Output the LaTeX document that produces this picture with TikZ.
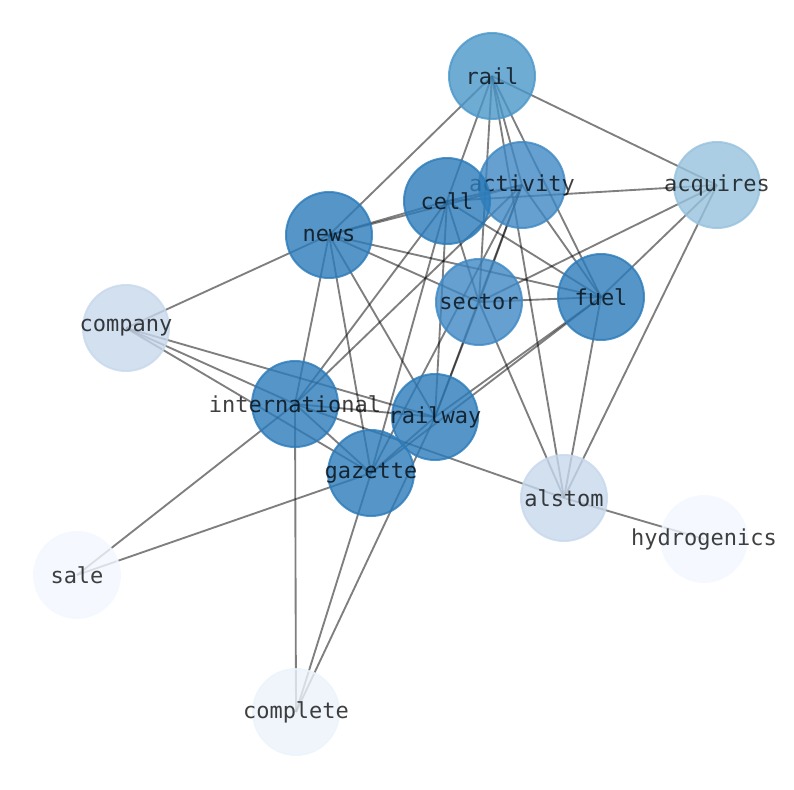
\documentclass[tikz,border=0pt]{standalone}
\usepackage{fontspec}
\setmonofont{DejaVu Sans Mono}
\usetikzlibrary{backgrounds}

\definecolor{hub}{HTML}{2B7BBA}
\definecolor{mid}{HTML}{3E88C4}
\definecolor{top}{HTML}{4A97C9}
\definecolor{pale}{HTML}{97C2DD}
\definecolor{faint}{HTML}{C7D8EC}
\definecolor{ghost}{HTML}{ECF3FB}
\definecolor{mist}{HTML}{F3F8FF}

\newcommand{\word}[1]{\makebox[0pt]{#1}}

\begin{document}
\begin{tikzpicture}[
        x=0.75pt, y=-0.75pt,
        vertex/.style={circle, draw=#1, fill=#1, line width=1.5pt,
            fill opacity=0.8, draw opacity=0.8, text=black, text opacity=0.75,
            minimum size=64.5pt, inner sep=0pt,
            font=\fontsize{16.5}{18}\selectfont\ttfamily},
        edge/.style={draw=black, draw opacity=0.5, line width=1.4pt}
    ]
        \useasboundingbox (0,0) rectangle (794,790);

        % Words
        \node[vertex=top] (rail) at (492,76) {\word{rail}};
        \node[vertex=mid] (activity) at (522,185) {\word{activity}};
        \node[vertex=pale] (acquires) at (717,185) {\word{acquires}};
        \node[vertex=hub] (cell) at (447,201) {\word{cell}};
        \node[vertex=hub] (news) at (329,235) {\word{news}};
        \node[vertex=mid] (sector) at (479,302) {\word{sector}};
        \node[vertex=hub] (fuel) at (601,297) {\word{fuel}};
        \node[vertex=faint] (company) at (126,328) {\word{company}};
        \node[vertex=hub] (international) at (295,404) {\word{international}};
        \node[vertex=hub] (railway) at (435,417) {\word{railway}};
        \node[vertex=hub] (gazette) at (371,473) {\word{gazette}};
        \node[vertex=faint] (alstom) at (564,498) {\word{alstom}};
        \node[vertex=mist] (hydrogenics) at (704,539) {\word{hydrogenics}};
        \node[vertex=mist] (sale) at (77,575) {\word{sale}};
        \node[vertex=ghost] (complete) at (296,712) {\word{complete}};

        % Links
        \begin{scope}[on background layer]
        \draw[edge] (rail.center) -- (news.center);
        \draw[edge] (rail.center) -- (cell.center);
        \draw[edge] (rail.center) -- (sector.center);
        \draw[edge] (rail.center) -- (activity.center);
        \draw[edge] (rail.center) -- (alstom.center);
        \draw[edge] (rail.center) -- (fuel.center);
        \draw[edge] (rail.center) -- (acquires.center);
        \draw[edge] (acquires.center) -- (cell.center);
        \draw[edge] (acquires.center) -- (sector.center);
        \draw[edge] (acquires.center) -- (fuel.center);
        \draw[edge] (acquires.center) -- (alstom.center);
        \draw[edge] (news.center) -- (company.center);
        \draw[edge] (news.center) -- (cell.center);
        \draw[edge] (news.center) -- (activity.center);
        \draw[edge] (news.center) -- (fuel.center);
        \draw[edge] (news.center) -- (sector.center);
        \draw[edge] (news.center) -- (railway.center);
        \draw[edge] (news.center) -- (gazette.center);
        \draw[edge] (news.center) -- (international.center);
        \draw[edge] (cell.center) -- (activity.center);
        \draw[edge] (cell.center) -- (international.center);
        \draw[edge] (cell.center) -- (gazette.center);
        \draw[edge] (cell.center) -- (railway.center);
        \draw[edge] (cell.center) -- (fuel.center);
        \draw[edge] (cell.center) -- (sector.center);
        \draw[edge] (activity.center) -- (international.center);
        \draw[edge] (activity.center) -- (gazette.center);
        \draw[edge] (activity.center) -- (railway.center);
        \draw[edge] (activity.center) -- (sector.center);
        \draw[edge] (activity.center) -- (fuel.center);
        \draw[edge] (sector.center) -- (fuel.center);
        \draw[edge] (sector.center) -- (alstom.center);
        \draw[edge] (sector.center) -- (railway.center);
        \draw[edge] (fuel.center) -- (railway.center);
        \draw[edge] (fuel.center) -- (gazette.center);
        \draw[edge] (fuel.center) -- (alstom.center);
        \draw[edge] (company.center) -- (international.center);
        \draw[edge] (company.center) -- (railway.center);
        \draw[edge] (company.center) -- (gazette.center);
        \draw[edge] (international.center) -- (railway.center);
        \draw[edge] (international.center) -- (gazette.center);
        \draw[edge] (international.center) -- (alstom.center);
        \draw[edge] (international.center) -- (sale.center);
        \draw[edge] (international.center) -- (complete.center);
        \draw[edge] (gazette.center) -- (railway.center);
        \draw[edge] (gazette.center) -- (sale.center);
        \draw[edge] (gazette.center) -- (complete.center);
        \draw[edge] (railway.center) -- (complete.center);
        \draw[edge] (alstom.center) -- (hydrogenics.center);
        \end{scope}
    \end{tikzpicture}
\end{document}
